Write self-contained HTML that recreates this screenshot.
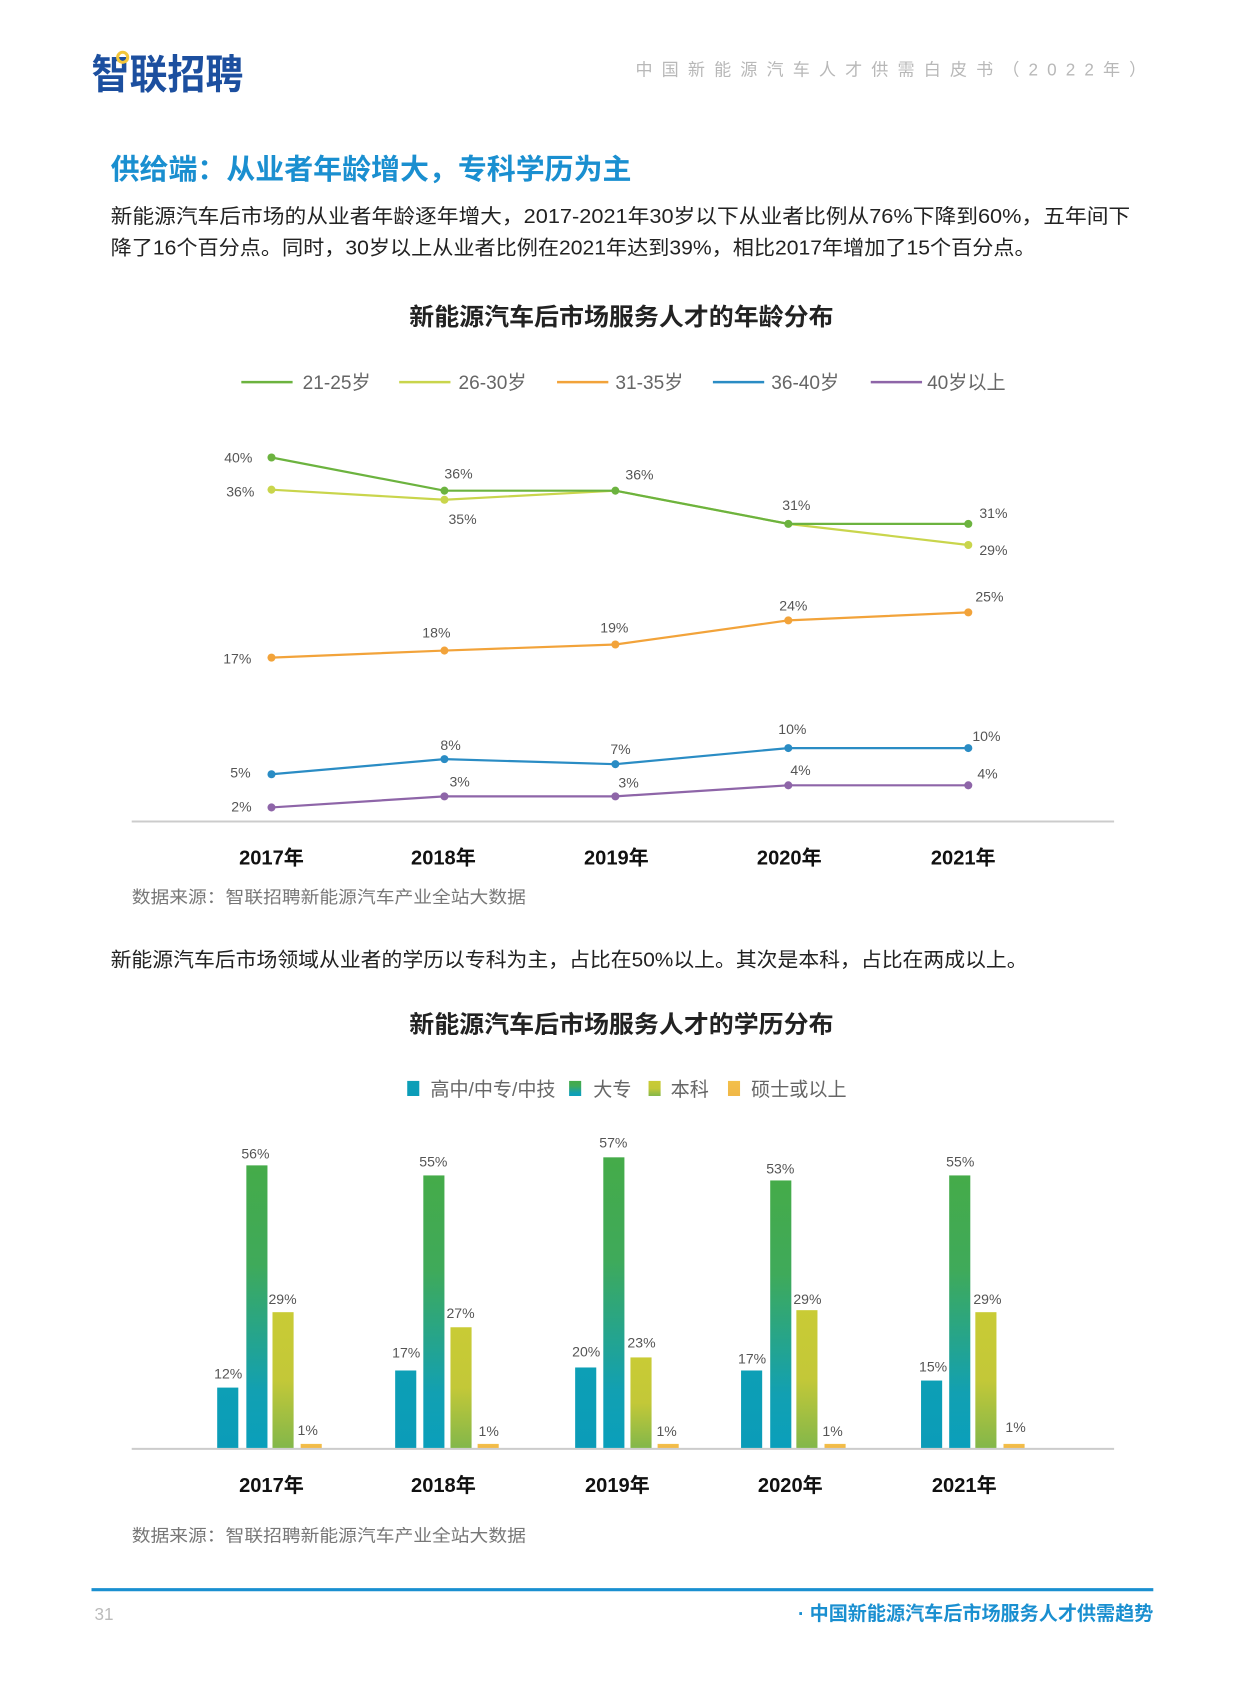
<!DOCTYPE html>
<html><head><meta charset="utf-8"><style>
body{margin:0;background:#fff;}
svg text{font-family:"Liberation Sans","Noto Sans CJK SC",sans-serif;}
</style></head><body>
<svg width="1241" height="1684" viewBox="0 0 1241 1684" xmlns="http://www.w3.org/2000/svg">
<defs>
<linearGradient id="gA" x1="0" y1="0" x2="0" y2="1"><stop offset="0" stop-color="#0d9fb6"/><stop offset="1" stop-color="#0b9cb8"/></linearGradient>
<linearGradient id="gB" x1="0" y1="0" x2="0" y2="1"><stop offset="0" stop-color="#45ab49"/><stop offset="0.35" stop-color="#3faa5a"/><stop offset="0.8" stop-color="#12a0b2"/><stop offset="1" stop-color="#0a9fbb"/></linearGradient>
<linearGradient id="gC" x1="0" y1="0" x2="0" y2="1"><stop offset="0" stop-color="#c9cb35"/><stop offset="0.5" stop-color="#c3c838"/><stop offset="1" stop-color="#83b74a"/></linearGradient>
<linearGradient id="gD" x1="0" y1="0" x2="0" y2="1"><stop offset="0" stop-color="#f3c04a"/><stop offset="1" stop-color="#f0b748"/></linearGradient>
</defs>
<g transform="scale(1.0055)">
<!-- header -->
<text x="91" y="88" font-size="40" font-weight="bold" fill="#1c4f9f" textLength="151" lengthAdjust="spacingAndGlyphs">智联招聘</text>
<circle cx="122" cy="57" r="5" fill="none" stroke="#f3c63a" stroke-width="3"/>
<text x="632" y="75" font-size="17" fill="#b8b8b8" textLength="508" lengthAdjust="spacing">中国新能源汽车人才供需白皮书（2022年）</text>
<text x="110" y="178" font-size="28" font-weight="bold" fill="#1a8fd0" textLength="518" lengthAdjust="spacingAndGlyphs">供给端：从业者年龄增大，专科学历为主</text>
<text x="110" y="222" font-size="20" fill="#222" textLength="1014" lengthAdjust="spacingAndGlyphs">新能源汽车后市场的从业者年龄逐年增大，2017-2021年30岁以下从业者比例从76%下降到60%，五年间下</text>
<text x="110" y="253" font-size="20" fill="#222" textLength="920" lengthAdjust="spacingAndGlyphs">降了16个百分点。同时，30岁以上从业者比例在2021年达到39%，相比2017年增加了15个百分点。</text>
<!-- chart 1 -->
<text x="407" y="323" font-size="24" font-weight="bold" fill="#222" textLength="422" lengthAdjust="spacingAndGlyphs">新能源汽车后市场服务人才的年龄分布</text>
<g font-size="19" fill="#666">
<line x1="240" y1="380" x2="291" y2="380" stroke="#6cb33f" stroke-width="2.5"/><text x="301" y="387">21-25岁</text>
<line x1="397" y1="380" x2="448" y2="380" stroke="#c9d54c" stroke-width="2.5"/><text x="456" y="387">26-30岁</text>
<line x1="554" y1="380" x2="605" y2="380" stroke="#f2a33a" stroke-width="2.5"/><text x="612" y="387">31-35岁</text>
<line x1="709" y1="380" x2="760" y2="380" stroke="#2a8cc4" stroke-width="2.5"/><text x="767" y="387">36-40岁</text>
<line x1="866" y1="380" x2="917" y2="380" stroke="#8e65a8" stroke-width="2.5"/><text x="922" y="387">40岁以上</text>
</g>
<line x1="131" y1="817" x2="1108" y2="817" stroke="#ccc" stroke-width="2"/>
<g stroke-width="2.2" fill="none">
<polyline points="270,487 442,497 612,488 784,521 963,542" stroke="#c9d54c"/>
<polyline points="270,455 442,488 612,488 784,521 963,521" stroke="#6cb33f"/>
<polyline points="270,654 442,647 612,641 784,617 963,609" stroke="#f2a33a"/>
<polyline points="270,770 442,755 612,760 784,744 963,744" stroke="#2a8cc4"/>
<polyline points="270,803 442,792 612,792 784,781 963,781" stroke="#8e65a8"/>
</g>
<g>
<g fill="#c9d54c"><circle cx="270" cy="487" r="4"/><circle cx="442" cy="497" r="4"/><circle cx="963" cy="542" r="4"/></g>
<g fill="#6cb33f"><circle cx="270" cy="455" r="4"/><circle cx="442" cy="488" r="4"/><circle cx="612" cy="488" r="4"/><circle cx="784" cy="521" r="4"/><circle cx="963" cy="521" r="4"/></g>
<g fill="#f2a33a"><circle cx="270" cy="654" r="4"/><circle cx="442" cy="647" r="4"/><circle cx="612" cy="641" r="4"/><circle cx="784" cy="617" r="4"/><circle cx="963" cy="609" r="4"/></g>
<g fill="#2a8cc4"><circle cx="270" cy="770" r="4"/><circle cx="442" cy="755" r="4"/><circle cx="612" cy="760" r="4"/><circle cx="784" cy="744" r="4"/><circle cx="963" cy="744" r="4"/></g>
<g fill="#8e65a8"><circle cx="270" cy="803" r="4"/><circle cx="442" cy="792" r="4"/><circle cx="612" cy="792" r="4"/><circle cx="784" cy="781" r="4"/><circle cx="963" cy="781" r="4"/></g>
</g>
<g font-size="14" fill="#555">
<text x="223" y="460">40%</text><text x="225" y="494">36%</text>
<text x="442" y="476">36%</text><text x="446" y="521">35%</text><text x="622" y="477">36%</text>
<text x="778" y="507">31%</text><text x="974" y="515">31%</text><text x="974" y="552">29%</text>
<text x="222" y="660">17%</text><text x="420" y="634">18%</text><text x="597" y="629">19%</text><text x="775" y="607">24%</text><text x="970" y="598">25%</text>
<text x="229" y="773">5%</text><text x="438" y="746">8%</text><text x="607" y="750">7%</text><text x="774" y="730">10%</text><text x="967" y="737">10%</text>
<text x="230" y="807">2%</text><text x="447" y="782">3%</text><text x="615" y="783">3%</text><text x="786" y="771">4%</text><text x="972" y="774">4%</text>
</g>
<g font-size="20" font-weight="bold" fill="#111" text-anchor="middle">
<text x="270" y="860">2017年</text><text x="441" y="860">2018年</text><text x="613" y="860">2019年</text><text x="785" y="860">2020年</text><text x="958" y="860">2021年</text>
</g>
<text x="131" y="898" font-size="17" fill="#777" textLength="392" lengthAdjust="spacingAndGlyphs">数据来源：智联招聘新能源汽车产业全站大数据</text>
<text x="110" y="961" font-size="20" fill="#222" textLength="912" lengthAdjust="spacingAndGlyphs">新能源汽车后市场领域从业者的学历以专科为主，占比在50%以上。其次是本科，占比在两成以上。</text>
<!-- chart 2 -->
<text x="407" y="1027" font-size="24" font-weight="bold" fill="#222" textLength="422" lengthAdjust="spacingAndGlyphs">新能源汽车后市场服务人才的学历分布</text>
<g font-size="19" fill="#666">
<rect x="405" y="1075" width="12" height="15" fill="url(#gA)"/><text x="428" y="1090">高中/中专/中技</text>
<rect x="566" y="1075" width="12" height="15" fill="url(#gB)"/><text x="590" y="1090">大专</text>
<rect x="645" y="1075" width="12" height="15" fill="url(#gC)"/><text x="667" y="1090">本科</text>
<rect x="724" y="1075" width="12" height="15" fill="url(#gD)"/><text x="747" y="1090">硕士或以上</text>
</g>
<line x1="131" y1="1441" x2="1108" y2="1441" stroke="#ccc" stroke-width="2"/>
<g>
<rect x="216" y="1380" width="21" height="60" fill="url(#gA)"/><rect x="245" y="1159" width="21" height="281" fill="url(#gB)"/><rect x="271" y="1305" width="21" height="135" fill="url(#gC)"/><rect x="299" y="1436" width="21" height="4" fill="url(#gD)"/>
<rect x="393" y="1363" width="21" height="77" fill="url(#gA)"/><rect x="421" y="1169" width="21" height="271" fill="url(#gB)"/><rect x="448" y="1320" width="21" height="120" fill="url(#gC)"/><rect x="475" y="1436" width="21" height="4" fill="url(#gD)"/>
<rect x="572" y="1360" width="21" height="80" fill="url(#gA)"/><rect x="600" y="1151" width="21" height="289" fill="url(#gB)"/><rect x="627" y="1350" width="21" height="90" fill="url(#gC)"/><rect x="654" y="1436" width="21" height="4" fill="url(#gD)"/>
<rect x="737" y="1363" width="21" height="77" fill="url(#gA)"/><rect x="766" y="1174" width="21" height="266" fill="url(#gB)"/><rect x="792" y="1303" width="21" height="137" fill="url(#gC)"/><rect x="820" y="1436" width="21" height="4" fill="url(#gD)"/>
<rect x="916" y="1373" width="21" height="67" fill="url(#gA)"/><rect x="944" y="1169" width="21" height="271" fill="url(#gB)"/><rect x="970" y="1305" width="21" height="135" fill="url(#gC)"/><rect x="998" y="1436" width="21" height="4" fill="url(#gD)"/>
</g>
<g font-size="14" fill="#555" text-anchor="middle">
<text x="227" y="1371">12%</text><text x="254" y="1152">56%</text><text x="281" y="1297">29%</text><text x="306" y="1427">1%</text>
<text x="404" y="1350">17%</text><text x="431" y="1160">55%</text><text x="458" y="1311">27%</text><text x="486" y="1428">1%</text>
<text x="583" y="1349">20%</text><text x="610" y="1141">57%</text><text x="638" y="1340">23%</text><text x="663" y="1428">1%</text>
<text x="748" y="1356">17%</text><text x="776" y="1167">53%</text><text x="803" y="1297">29%</text><text x="828" y="1428">1%</text>
<text x="928" y="1364">15%</text><text x="955" y="1160">55%</text><text x="982" y="1297">29%</text><text x="1010" y="1424">1%</text>
</g>
<g font-size="20" font-weight="bold" fill="#111" text-anchor="middle">
<text x="270" y="1484">2017年</text><text x="441" y="1484">2018年</text><text x="614" y="1484">2019年</text><text x="786" y="1484">2020年</text><text x="959" y="1484">2021年</text>
</g>
<text x="131" y="1533" font-size="17" fill="#777" textLength="392" lengthAdjust="spacingAndGlyphs">数据来源：智联招聘新能源汽车产业全站大数据</text>
<!-- footer -->
<line x1="91" y1="1581" x2="1147" y2="1581" stroke="#1a8fd0" stroke-width="3"/>
<text x="94" y="1611" font-size="17" fill="#bbb">31</text>
<text x="1147" y="1611" font-size="19" font-weight="bold" fill="#1a8fd0" text-anchor="end">· 中国新能源汽车后市场服务人才供需趋势</text>
</g>
</svg>
</body></html>
